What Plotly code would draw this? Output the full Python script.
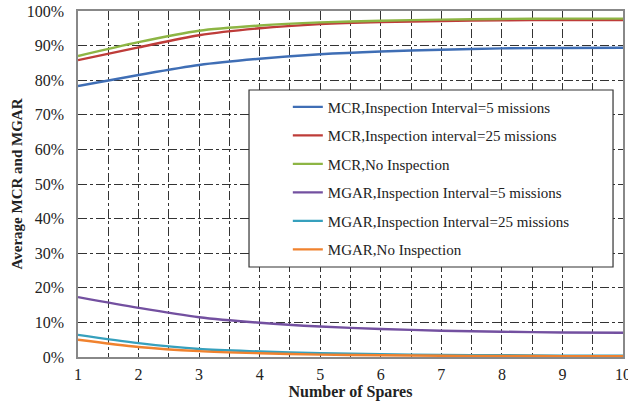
import plotly.graph_objects as go

spares = [1, 2, 3, 4, 5, 6, 7, 8, 9, 10]
mcr_5 = [78.3, 81.5, 84.4, 86.2, 87.5, 88.3, 88.8, 89.2, 89.3, 89.4]
mcr_25 = [85.8, 89.5, 93.0, 95.0, 96.2, 96.8, 97.1, 97.3, 97.4, 97.4]
mcr_no = [87.0, 91.0, 94.3, 95.8, 96.7, 97.2, 97.5, 97.7, 97.8, 97.8]
mgar_5 = [17.3, 14.2, 11.5, 9.9, 8.8, 8.1, 7.6, 7.3, 7.1, 7.0]
mgar_25 = [6.4, 4.0, 2.3, 1.6, 1.1, 0.8, 0.6, 0.5, 0.4, 0.4]
mgar_no = [5.0, 2.9, 1.7, 1.1, 0.7, 0.5, 0.35, 0.3, 0.25, 0.2]

series = [
    ("MCR,Inspection Interval=5 missions", mcr_5, "#3f6eb5"),
    ("MCR,Inspection interval=25 missions", mcr_25, "#be3c39"),
    ("MCR,No Inspection", mcr_no, "#8db544"),
    ("MGAR,Inspection Interval=5 missions", mgar_5, "#7350a0"),
    ("MGAR,Inspection Interval=25 missions", mgar_25, "#36a0bd"),
    ("MGAR,No Inspection", mgar_no, "#f0822e"),
]

font = "Liberation Serif"
fig = go.Figure()
for i, (name, vals, col) in enumerate(series):
    fig.add_trace(go.Scatter(
        x=spares, y=[v / 100 for v in vals], name=name, mode="lines",
        line=dict(color=col, width=2.4, shape="spline", smoothing=0.8),
        legendgroup=f"g{i}",
    ))

# legend frame (drawn as a box behind the legend)
fig.add_shape(type="rect", xref="paper", yref="paper",
              x0=0.3138, x1=0.9817, y0=0.2601, y1=0.7717,
              line=dict(color="#333", width=1.2), fillcolor="white", layer="above")

fig.update_layout(
    width=628, height=401,
    margin=dict(l=78, r=5, t=11, b=44),
    paper_bgcolor="white", plot_bgcolor="white",
    font=dict(family=font, size=15, color="#222"),
    showlegend=True,
    legend=dict(
        x=0.385, y=0.77, xanchor="left", yanchor="top",
        bgcolor="rgba(0,0,0,0)", borderwidth=0,
        font=dict(family=font, size=15, color="#222"),
        traceorder="grouped", tracegroupgap=6,
        itemwidth=30,
    ),
    xaxis=dict(
        range=[1, 10], dtick=1, tick0=1,
        showgrid=True, gridcolor="#333", griddash="dashdot", gridwidth=1,
        minor=dict(dtick=0.5, tick0=1, showgrid=True, gridcolor="#333",
                   griddash="dashdot", gridwidth=1),
        showline=True, linecolor="#888", linewidth=1.5, mirror=True,
        zeroline=False, ticks="", ticklabeloverflow="allow",
        ticklabelstandoff=2,
        tickfont=dict(family=font, size=16, color="#222"),
        title=dict(text="<b>Number of Spares</b>", standoff=2,
                   font=dict(family=font, size=16, color="#222")),
        automargin=False,
    ),
    yaxis=dict(
        range=[0, 1], dtick=0.1, tickformat=".0%",
        showgrid=True, gridcolor="#333", griddash="dashdot", gridwidth=1,
        showline=True, linecolor="#888", linewidth=1.5, mirror=True,
        zeroline=False, ticks="", ticklabelstandoff=9,
        tickfont=dict(family=font, size=16, color="#222"),
        title=dict(text="<b>Average MCR and MGAR</b>", standoff=0,
                   font=dict(family=font, size=15, color="#222")),
        automargin=False,
    ),
)

fig.write_html("out.html")
